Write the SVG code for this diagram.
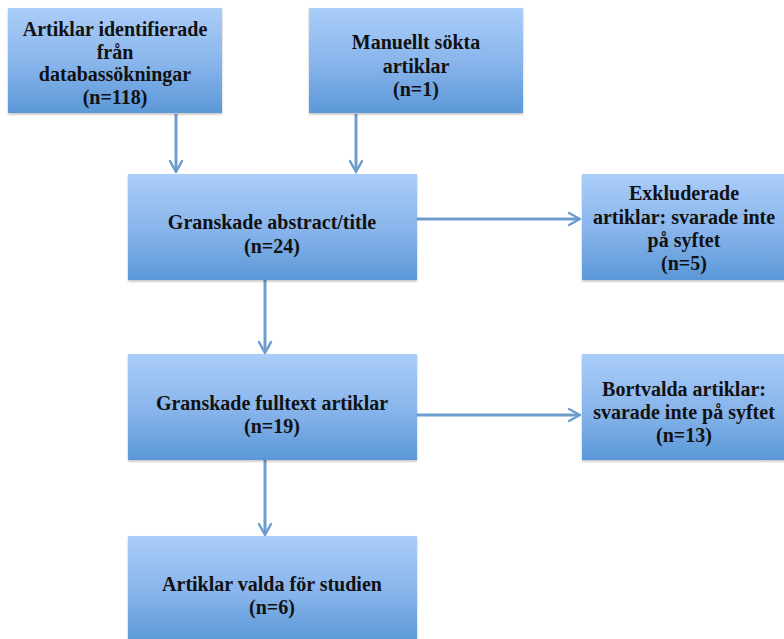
<svg xmlns="http://www.w3.org/2000/svg" width="784" height="639" viewBox="0 0 784 639">
<defs>
<linearGradient id="g" x1="0" y1="0" x2="0" y2="1">
<stop offset="0" stop-color="#aacdf8"/>
<stop offset="0.5" stop-color="#8ab6ec"/>
<stop offset="1" stop-color="#5b98d8"/>
</linearGradient>
<filter id="sh" x="-5%" y="-5%" width="110%" height="115%">
<feDropShadow dx="0" dy="1.5" stdDeviation="1.2" flood-color="#000" flood-opacity="0.25"/>
</filter>
</defs>
<style>
.box{fill:url(#g);filter:url(#sh)}
.t{font-family:'Liberation Serif','Times New Roman',Times,serif;font-weight:700;font-size:20px;fill:#111;text-anchor:middle}
.ln{stroke:#6d9dcd;stroke-width:3;fill:none}
.hd{stroke:#6d9dcd;stroke-width:2.5;fill:none;stroke-linecap:round;stroke-linejoin:round}
</style>
<rect width="784" height="639" fill="#fff"/>
<g id="connectors">
<line class="ln" x1="176" y1="114" x2="176" y2="171"/>
<polyline class="hd" points="170,161 176,172 182,161"/>
<line class="ln" x1="356" y1="114" x2="356" y2="171"/>
<polyline class="hd" points="350,161 356,172 362,161"/>
<line class="ln" x1="417" y1="219" x2="579" y2="219"/>
<polyline class="hd" points="569,213 580,219 569,225"/>
<line class="ln" x1="265" y1="280" x2="265" y2="352"/>
<polyline class="hd" points="259,342 265,353 271,342"/>
<line class="ln" x1="417" y1="415" x2="579" y2="415"/>
<polyline class="hd" points="569,409 580,415 569,421"/>
<line class="ln" x1="265" y1="460" x2="265" y2="534"/>
<polyline class="hd" points="259,524 265,535 271,524"/>
</g>
<g id="n1">
<rect class="box" x="8" y="8" width="214" height="105"/>
<text class="t" x="115" y="36">Artiklar identifierade</text>
<text class="t" x="115" y="59">från</text>
<text class="t" x="115" y="81">databassökningar</text>
<text class="t" x="115" y="104">(n=118)</text>
</g>
<g id="n2">
<rect class="box" x="309" y="8" width="214" height="105"/>
<text class="t" x="416" y="49">Manuellt sökta</text>
<text class="t" x="416" y="73">artiklar</text>
<text class="t" x="416" y="96">(n=1)</text>
</g>
<g id="n3">
<rect class="box" x="128" y="174" width="289" height="106"/>
<text class="t" x="272" y="229">Granskade abstract/title</text>
<text class="t" x="272" y="253">(n=24)</text>
</g>
<g id="n4">
<rect class="box" x="582" y="174" width="210" height="106"/>
<text class="t" x="684" y="200">Exkluderade</text>
<text class="t" x="684" y="224">artiklar: svarade inte</text>
<text class="t" x="684" y="247">på syftet</text>
<text class="t" x="684" y="270">(n=5)</text>
</g>
<g id="n5">
<rect class="box" x="128" y="354" width="289" height="106"/>
<text class="t" x="272" y="410">Granskade fulltext artiklar</text>
<text class="t" x="272" y="433">(n=19)</text>
</g>
<g id="n6">
<rect class="box" x="582" y="354" width="210" height="106"/>
<text class="t" x="684" y="396">Bortvalda artiklar:</text>
<text class="t" x="684" y="419">svarade inte på syftet</text>
<text class="t" x="684" y="442">(n=13)</text>
</g>
<g id="n7">
<rect class="box" x="128" y="536" width="289" height="106"/>
<text class="t" x="272" y="591">Artiklar valda för studien</text>
<text class="t" x="272" y="614">(n=6)</text>
</g>
</svg>
